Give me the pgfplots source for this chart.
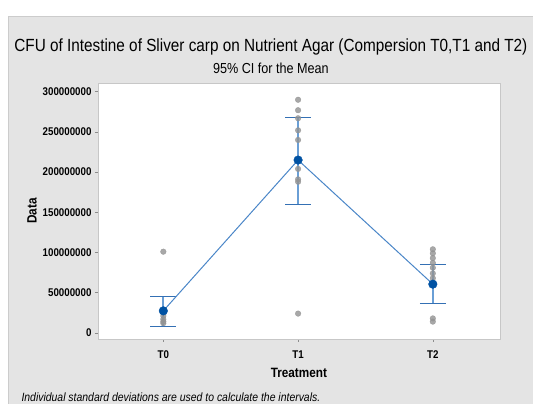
\documentclass[border=0pt]{standalone}
\usepackage{pgfplots}
\pgfplotsset{compat=1.18}
\usepackage{fontspec}
\setmainfont{Liberation Sans}
\newfontfamily\cond[FakeStretch=0.87]{Liberation Sans}
\definecolor{panel}{HTML}{E4E4E4}
\definecolor{meanblue}{HTML}{0052A3}
\definecolor{lineblue}{HTML}{4A86C8}
\definecolor{ciblue}{HTML}{6A9FD6}
\definecolor{capblue}{HTML}{3470B4}
\definecolor{ptgray}{HTML}{939393}
\begin{document}
\begin{tikzpicture}
\fill[white] (0pt,0pt) rectangle (533pt,404pt);
\fill[panel] (8pt,0pt) rectangle (533pt,388pt);
\draw[black!20] (8pt,0pt) -- (8pt,388pt) -- (533pt,388pt);
\node[font=\cond\fontsize{17.6}{19}\selectfont] at (271pt,357pt) {CFU of Intestine of Sliver carp on Nutrient Agar (Compersion T0,T1 and T2)};
\node[font=\cond\fontsize{14.5}{16}\selectfont] at (271pt,336pt) {95\% CI for the Mean};
\begin{axis}[at={(98pt,65pt)}, anchor=south west, width=402pt, height=256pt, scale only axis,
  xmin=-0.485, xmax=2.497, ymin=-7.46e6, ymax=310.9e6,
  axis background/.style={fill=white},
  axis line style={draw=black!22},
  xtick={0,1,2}, xticklabels={T0,T1,T2},
  scaled y ticks=false,
  ytick={0,50000000,100000000,150000000,200000000,250000000,300000000},
  yticklabels={0,50000000,100000000,150000000,200000000,250000000,300000000},
  xtick pos=bottom, ytick pos=left, tick align=outside,
  major tick length=3pt, tick style={black!45, line width=0.5pt},
  ticklabel style={font=\cond\bfseries\fontsize{11.2}{12}\selectfont},
  xticklabel style={yshift=-5pt},
  clip=false]
% individual points
\addplot[only marks, mark=*, mark size=2.8pt, color=ptgray, fill opacity=0.8, draw opacity=0.8] coordinates {
 (0,101e6) (0,25e6) (0,21e6) (0,17e6) (0,14e6) (0,12e6)
 (1,290e6) (1,277e6) (1,267e6) (1,252e6) (1,240e6) (1,215e6) (1,204e6) (1,191e6) (1,188e6) (1,24e6)
 (2,104e6) (2,99e6) (2,93e6) (2,87e6) (2,81e6) (2,74e6) (2,68e6) (2,18e6) (2,14e6)
};
% CI vertical lines
\addplot[ciblue, line width=2pt, forget plot] coordinates {(0,7.8e6) (0,45e6)};
\addplot[ciblue, line width=2pt, forget plot] coordinates {(1,160e6) (1,268e6)};
\addplot[ciblue, line width=2pt, forget plot] coordinates {(2,36.4e6) (2,85.4e6)};
% caps
\addplot[capblue, line width=1.2pt] coordinates {(-0.096,7.8e6) (0.096,7.8e6)};
\addplot[capblue, line width=1.2pt] coordinates {(-0.096,45e6) (0.096,45e6)};
\addplot[capblue, line width=1.2pt] coordinates {(0.904,160e6) (1.096,160e6)};
\addplot[capblue, line width=1.2pt] coordinates {(0.904,268e6) (1.096,268e6)};
\addplot[capblue, line width=1.2pt] coordinates {(1.904,36.4e6) (2.096,36.4e6)};
\addplot[capblue, line width=1.2pt] coordinates {(1.904,85.4e6) (2.096,85.4e6)};
% mean line
\addplot[lineblue, line width=1pt] coordinates {(0,27.4e6) (1,215e6) (2,60.6e6)};
\addplot[only marks, mark=*, mark size=4.3pt, color=meanblue] coordinates {(0,27.4e6) (1,215e6) (2,60.6e6)};
\end{axis}
\node[font=\cond\bfseries\fontsize{13.5}{15}\selectfont] at (299pt,31pt) {Treatment};
\node[font=\cond\bfseries\fontsize{13.5}{15}\selectfont, rotate=90] at (32pt,193pt) {Data};
\node[font=\cond\itshape\fontsize{12}{13}\selectfont, anchor=west] at (18pt,7pt) {Individual standard deviations are used to calculate the intervals.};
\end{tikzpicture}
\end{document}
